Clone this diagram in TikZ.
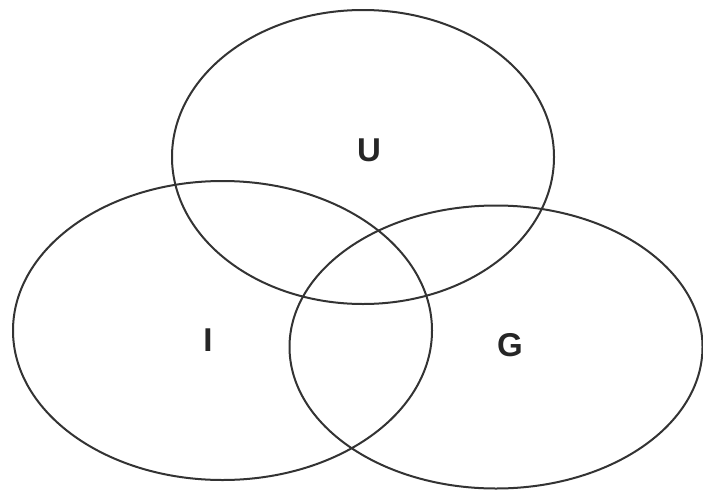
\documentclass[tikz,border=0pt]{standalone}
\usepackage{fontspec}
\setmainfont{Liberation Sans}
\usepackage{tikz}

\begin{document}
\begin{tikzpicture}[x=1pt, y=-1pt,
  setline/.style={line width=2pt, draw=black!80},
  setlabel/.style={font=\fontsize{33}{33}\selectfont\bfseries, text=black!85, inner sep=0pt}]
\useasboundingbox (0,0) rectangle (703,490);
% the three sets
\draw[setline] (363,157) ellipse [x radius=191, y radius=147];
\draw[setline] (222.5,330.5) ellipse [x radius=209.5, y radius=149.5];
\draw[setline] (496,347) ellipse [x radius=206.5, y radius=141.5];
\node[setlabel] (lu) at (369,150) {U};
\node[setlabel] (li) at (208,340) {I};
\node[setlabel] (lg) at (510,345) {G};
\end{tikzpicture}
\end{document}
